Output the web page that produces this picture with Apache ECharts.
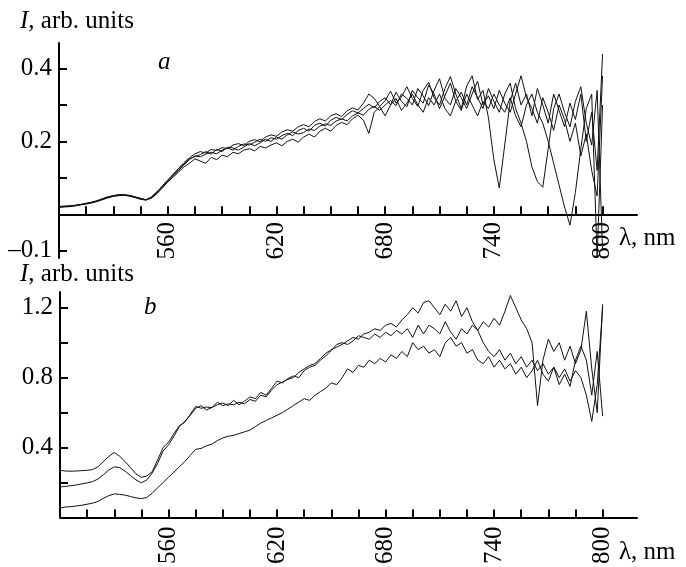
<!DOCTYPE html>
<html><head><meta charset="utf-8">
<script src="https://cdn.jsdelivr.net/npm/echarts@6/dist/echarts.min.js"></script>
<style>html,body{margin:0;padding:0;background:#fff}#c{width:686px;height:567px}</style>
</head><body><div id="c"></div>
<script>
const wavelength = [500,503,506,509,512,515,518,521,524,527,530,533,536,539,542,545,548,551,554,557,560,563,566,569,572,575,578,581,584,587,590,593,596,599,602,605,608,611,614,617,620,623,626,629,632,635,638,641,644,647,650,653,656,659,662,665,668,671,674,677,680,683,686,689,692,695,698,701,704,707,710,713,716,719,722,725,728,731,734,737,740,743,746,749,752,755,758,761,764,767,770,773,776,779,782,785,788,791,794,797,800];

// panel a
const a1 = [.020,.021,.022,.024,.027,.029,.032,.036,.041,.046,
.050,.053,.054,.051,.047,.042,.040,.046,.060,.078,
.094,.110,.126,.142,.155,.166,.172,.168,.178,.175,
.183,.180,.190,.194,.188,.200,.205,.199,.212,.218,
.214,.226,.232,.228,.240,.246,.240,.255,.262,.256,
.270,.276,.268,.284,.292,.286,.305,.330,.318,.296,
.312,.338,.305,.322,.350,.318,.296,.340,.362,.320,
.300,.345,.378,.330,.290,.352,.380,.315,.340,.265,
.150,.072,.190,.310,.360,.300,.330,.270,.345,.300,
.250,.330,.285,.240,.305,.260,.330,.200,.280,.120,
.440];
const a2 = [.022,.022,.023,.025,.026,.030,.033,.037,.043,.048,
.051,.054,.052,.050,.046,.043,.039,.048,.062,.074,
.090,.104,.120,.136,.150,.160,.158,.165,.170,.166,
.176,.182,.176,.186,.193,.190,.198,.206,.200,.210,
.206,.216,.222,.216,.230,.236,.228,.244,.250,.242,
.258,.266,.260,.274,.284,.278,.290,.302,.292,.310,
.320,.300,.335,.310,.295,.340,.320,.305,.355,.330,
.290,.325,.360,.310,.335,.300,.350,.320,.290,.345,
.310,.280,.330,.360,.290,.250,.200,.130,.090,.074,
.180,.290,.330,.280,.240,.310,.350,.250,.190,.340,
-.100];
const a3 = [.019,.020,.021,.023,.026,.028,.031,.035,.040,.045,
.049,.051,.053,.052,.048,.044,.040,.044,.056,.072,
.088,.102,.116,.130,.140,.152,.146,.140,.156,.150,
.162,.158,.170,.166,.176,.180,.174,.186,.182,.190,
.196,.188,.200,.206,.198,.212,.220,.212,.228,.236,
.228,.244,.252,.246,.262,.272,.258,.222,.280,.295,
.270,.300,.318,.285,.305,.330,.300,.280,.320,.300,
.330,.290,.270,.310,.285,.330,.300,.270,.310,.290,
.330,.300,.280,.320,.270,.240,.300,.330,.280,.250,
.200,.140,.080,.020,-.030,.060,.180,.290,.330,-.120,
.300];
const a4 = [.021,.022,.023,.024,.027,.030,.033,.037,.042,.047,
.051,.053,.053,.050,.046,.041,.039,.045,.058,.076,
.092,.108,.122,.138,.152,.158,.164,.172,.165,.178,
.172,.184,.182,.176,.184,.194,.188,.196,.206,.200,
.212,.206,.218,.226,.220,.224,.234,.230,.242,.248,
.244,.256,.262,.256,.270,.278,.272,.288,.296,.285,
.300,.312,.298,.330,.318,.300,.345,.325,.298,.340,
.372,.318,.300,.345,.320,.290,.330,.365,.300,.325,
.290,.340,.305,.280,.330,.380,.320,.290,.250,.320,
.280,.230,.300,.260,.200,.250,.160,.220,.120,.050,
.380];

// panel b
const b1 = [.270,.266,.265,.266,.268,.270,.274,.290,.320,.350,
.372,.350,.320,.285,.250,.230,.238,.262,.330,.400,
.430,.480,.525,.545,.590,.635,.625,.632,.628,.660,
.640,.650,.645,.660,.650,.675,.665,.700,.690,.730,
.760,.775,.790,.800,.830,.850,.870,.880,.910,.940,
.960,.975,.990,1.010,1.030,1.020,1.050,1.060,1.080,1.070,
1.100,1.110,1.090,1.130,1.160,1.200,1.170,1.230,1.240,1.200,
1.160,1.220,1.180,1.240,1.150,1.200,1.120,1.070,1.000,.950,
.920,.960,.900,.940,.880,.920,.860,.900,.840,.880,
.820,.860,.800,.850,.780,.840,.800,.700,.550,.760,
1.200];
const b2 = [.175,.178,.182,.186,.192,.198,.205,.220,.245,.272,
.290,.285,.265,.240,.215,.198,.215,.255,.310,.380,
.415,.465,.520,.550,.585,.625,.640,.615,.630,.645,
.655,.640,.670,.645,.665,.690,.680,.715,.700,.740,
.780,.770,.795,.810,.800,.840,.860,.870,.900,.925,
.955,.990,1.000,.990,1.010,1.040,1.030,1.020,1.050,1.030,
1.060,1.040,1.070,1.050,1.080,1.030,1.100,1.050,1.100,1.080,
1.050,1.120,1.060,1.020,1.080,1.050,1.100,1.070,1.120,1.090,
1.140,1.100,1.180,1.270,1.200,1.130,1.080,1.000,.640,.900,
1.020,.950,1.000,.900,.980,.880,.960,1.180,.850,.600,
1.220];
const b3 = [.055,.060,.062,.066,.070,.076,.082,.092,.110,.125,
.135,.132,.128,.120,.112,.108,.115,.140,.170,.200,
.230,.260,.290,.320,.355,.390,.395,.410,.420,.440,
.455,.465,.470,.480,.490,.500,.520,.540,.555,.570,
.585,.600,.620,.640,.660,.680,.670,.700,.720,.740,
.770,.760,.800,.850,.830,.870,.860,.900,.880,.910,
.890,.930,.910,.950,.920,1.000,.960,.980,.940,.960,
.920,1.000,1.030,.980,1.000,.940,.960,.900,.880,.920,
.860,.900,.850,.880,.820,.860,.800,.840,.900,.820,
.780,.860,.760,.820,.750,.900,.980,.900,.700,.950,
.580];

const xTicks = [500,515,530,545,560,575,590,605,620,635,650,665,680,695,710,725,740,755,770,785,800];
const xLabels = [560,620,680,740,800];
const yTicksA = [-0.1,0.1,0.2,0.3,0.4];
const yLabelsA = [-0.1,0.2,0.4];
const yTicksB = [0.2,0.4,0.6,0.8,1.0,1.2];
const yLabelsB = [0.4,0.8,1.2];

const FONT = '"Liberation Serif","Times New Roman",serif';
const FS = 25;
const pair = (v) => v.map((y,i)=>[wavelength[i], y]);

function xAxisCfg(gi, margin){
  return {type:'value', gridIndex:gi, min:500, max:819,
    axisLine:{onZero:true, lineStyle:{color:'#000', width:2}},
    axisTick:{inside:true, length:8, customValues:xTicks, lineStyle:{color:'#000', width:2}},
    axisLabel:{customValues:xLabels, rotate:90, margin:margin, fontFamily:FONT, fontSize:FS, color:'#000'},
    splitLine:{show:false}};
}
function yAxisCfg(gi,min,max,ticks,labels){
  return {type:'value', gridIndex:gi, min:min, max:max,
    axisLine:{show:true, onZero:false, lineStyle:{color:'#000', width:2}},
    axisTick:{show:true, inside:true, length:8, customValues:ticks, lineStyle:{color:'#000', width:2}},
    axisLabel:{customValues:labels, margin:7, fontFamily:FONT, fontSize:FS, color:'#000',
      formatter:(v)=> v<0 ? '\u2013'+Math.abs(v).toFixed(1) : v.toFixed(1)},
    splitLine:{show:false}};
}
function lineSeries(data, xi){
  return {type:'line', xAxisIndex:xi, yAxisIndex:xi, data:pair(data), showSymbol:false,
    lineStyle:{color:'#111', width:1}, clip:true, silent:true, z:3};
}

const chart = echarts.init(document.getElementById('c'), null, {renderer:'canvas'});
chart.setOption({
  animation:false,
  backgroundColor:'#fff',
  grid:[{left:59, top:43, width:578, height:215},{left:60, top:292, width:577, height:228}],
  xAxis:[xAxisCfg(0,-36), xAxisCfg(1,9)],
  yAxis:[yAxisCfg(0,-0.12,0.47,yTicksA,yLabelsA), yAxisCfg(1,0,1.29,yTicksB,yLabelsB)],
  series:[lineSeries(a1,0),lineSeries(a2,0),lineSeries(a3,0),lineSeries(a4,0),
          lineSeries(b1,1),lineSeries(b2,1),lineSeries(b3,1)],
  graphic:[
    {type:'text', left:20, top:9, style:{text:'{i|I}, arb. units', fontFamily:FONT, fontSize:FS, fill:'#000',
      rich:{i:{fontStyle:'italic', fontFamily:FONT, fontSize:FS}}}},
    {type:'text', left:20, top:262, style:{text:'{i|I}, arb. units', fontFamily:FONT, fontSize:FS, fill:'#000',
      rich:{i:{fontStyle:'italic', fontFamily:FONT, fontSize:FS}}}},
    {type:'text', left:158, top:50, style:{text:'a', fontFamily:FONT, fontStyle:'italic', fontSize:FS, fill:'#000'}},
    {type:'text', left:144, top:295, style:{text:'b', fontFamily:FONT, fontStyle:'italic', fontSize:FS, fill:'#000'}},
    {type:'text', left:619, top:226, style:{text:'\u03bb, nm', fontFamily:FONT, fontSize:FS, fill:'#000'}},
    {type:'text', left:619, top:540, style:{text:'\u03bb, nm', fontFamily:FONT, fontSize:FS, fill:'#000'}}
  ]
});
</script></body></html>
